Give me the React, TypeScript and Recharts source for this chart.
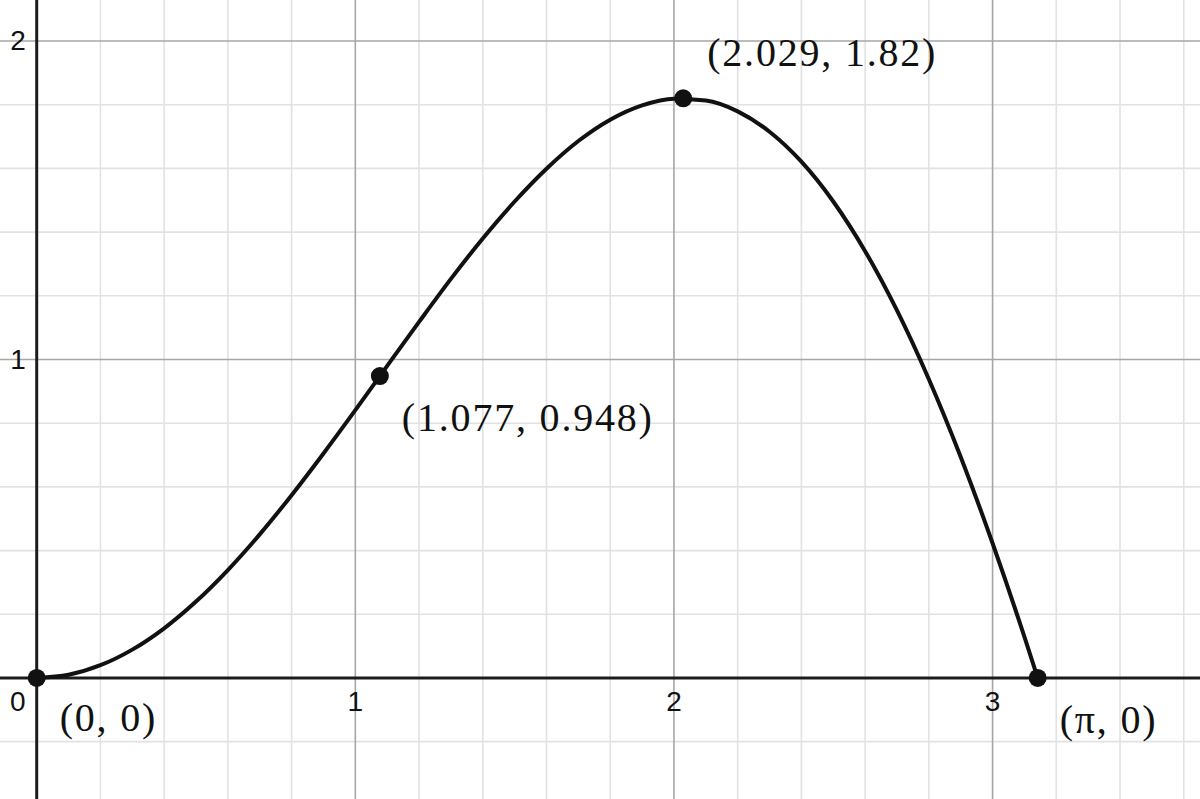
import React from "react";
import {
  ComposedChart,
  Line,
  Scatter,
  XAxis,
  YAxis,
  ReferenceLine,
  ReferenceDot,
} from "recharts";

// curve y = x·sin x
const CURVE_X = [
  0, 0.1, 0.2, 0.3, 0.4, 0.5, 0.6, 0.7, 0.8, 0.9, 1.0, 1.1, 1.2, 1.3, 1.4, 1.5,
  1.6, 1.7, 1.8, 1.9, 2.0, 2.1, 2.2, 2.3, 2.4, 2.5, 2.6, 2.7, 2.8, 2.9, 3.0, 3.1,
  3.1416,
];
const CURVE_Y = [
  0, 0.01, 0.04, 0.089, 0.156, 0.24, 0.339, 0.451, 0.574, 0.705, 0.841, 0.98,
  1.118, 1.253, 1.38, 1.496, 1.599, 1.686, 1.753, 1.798, 1.819, 1.813, 1.779,
  1.715, 1.621, 1.496, 1.34, 1.154, 0.938, 0.694, 0.423, 0.129, 0,
];

// marked points and their labels
const POINT_X = [0, 1.077, 2.029, 3.1416];
const POINT_Y = [0, 0.948, 1.82, 0];
const POINT_LABELS = ["(0, 0)", "(1.077, 0.948)", "(2.029, 1.82)", "(π, 0)"];

// axis ticks
const X_TICKS = [1, 2, 3];
const Y_TICKS = [1, 2];

// grid
const X_MAJOR = [1, 2, 3];
const Y_MAJOR = [1, 2];
const X_MINOR = [0.2, 0.4, 0.6, 0.8, 1.2, 1.4, 1.6, 1.8, 2.2, 2.4, 2.6, 2.8, 3.2, 3.4, 3.6];
const Y_MINOR = [-0.2, 0.2, 0.4, 0.6, 0.8, 1.2, 1.4, 1.6, 1.8];

const X_DOMAIN: [number, number] = [-0.1152, 3.651];
const Y_DOMAIN: [number, number] = [-0.38, 2.1287];

const curve = CURVE_X.map((x, i) => ({ x, y: CURVE_Y[i] }));
const points = POINT_X.map((x, i) => ({ x, y: POINT_Y[i], label: POINT_LABELS[i] }));

// label offsets from the dot, in px
const LABEL_OFFSETS = [
  [23, 40],
  [22, 41],
  [24, -46],
  [22, 42],
];

const TICK_FONT = { fontFamily: "'Liberation Sans', Arial, sans-serif", fontSize: 28, fill: "#111" };
const MATH_FONT = { fontFamily: "'Liberation Serif', 'Times New Roman', serif", fontSize: 40, fill: "#111" };

const Dot = (props: any) => <circle cx={props.cx} cy={props.cy} r={9} fill="#111" />;

export default function App() {
  return (
    <div style={{ position: "absolute", left: 0, top: 0, width: 1200, height: 799, background: "#fff" }}>
      <ComposedChart width={1200} height={799} margin={{ top: 0, right: 0, bottom: 0, left: 0 }}>
        <XAxis type="number" dataKey="x" domain={X_DOMAIN} allowDataOverflow hide />
        <YAxis type="number" dataKey="y" domain={Y_DOMAIN} allowDataOverflow hide />

        {X_MINOR.map((v) => (
          <ReferenceLine key={"xm" + v} x={v} stroke="#e2e2e2" strokeWidth={1.6} ifOverflow="hidden" />
        ))}
        {Y_MINOR.map((v) => (
          <ReferenceLine key={"ym" + v} y={v} stroke="#e2e2e2" strokeWidth={1.6} ifOverflow="hidden" />
        ))}
        {X_MAJOR.map((v) => (
          <ReferenceLine key={"xM" + v} x={v} stroke="#a6a6a6" strokeWidth={1.6} />
        ))}
        {Y_MAJOR.map((v) => (
          <ReferenceLine key={"yM" + v} y={v} stroke="#a6a6a6" strokeWidth={1.6} />
        ))}
        <ReferenceLine x={0} stroke="#1c1c1c" strokeWidth={3} />
        <ReferenceLine y={0} stroke="#1c1c1c" strokeWidth={3} />

        {/* tick labels */}
        {X_TICKS.map((v) => (
          <ReferenceDot
            key={"xt" + v}
            x={v}
            y={0}
            r={0}
            fill="none"
            stroke="none"
            label={{
              content: ({ viewBox }: any) => (
                <text x={viewBox.x} y={viewBox.y + 24} textAnchor="middle" dominantBaseline="central" {...TICK_FONT}>
                  {v}
                </text>
              ),
            }}
          />
        ))}
        <ReferenceDot
          x={0}
          y={0}
          r={0}
          fill="none"
          stroke="none"
          label={{
            content: ({ viewBox }: any) => (
              <text x={viewBox.x - 19} y={viewBox.y + 24} textAnchor="middle" dominantBaseline="central" {...TICK_FONT}>
                0
              </text>
            ),
          }}
        />
        {Y_TICKS.map((v) => (
          <ReferenceDot
            key={"yt" + v}
            x={0}
            y={v}
            r={0}
            fill="none"
            stroke="none"
            label={{
              content: ({ viewBox }: any) => (
                <text x={viewBox.x - 11} y={viewBox.y} textAnchor="end" dominantBaseline="central" {...TICK_FONT}>
                  {v}
                </text>
              ),
            }}
          />
        ))}

        <Line
          data={curve}
          dataKey="y"
          type="monotone"
          stroke="#111"
          strokeWidth={4}
          dot={false}
          activeDot={false}
          isAnimationActive={false}
        />
        <Scatter data={points} dataKey="y" shape={Dot} isAnimationActive={false} />

        {points.map((p, i) => (
          <ReferenceDot
            key={"pl" + i}
            x={p.x}
            y={p.y}
            r={0}
            fill="none"
            stroke="none"
            label={{
              content: ({ viewBox }: any) => (
                <text
                  x={viewBox.x + LABEL_OFFSETS[i][0]}
                  y={viewBox.y + LABEL_OFFSETS[i][1]}
                  textAnchor="start"
                  dominantBaseline="central"
                  letterSpacing={1.8}
                  {...MATH_FONT}
                >
                  {p.label}
                </text>
              ),
            }}
          />
        ))}
      </ComposedChart>
    </div>
  );
}
